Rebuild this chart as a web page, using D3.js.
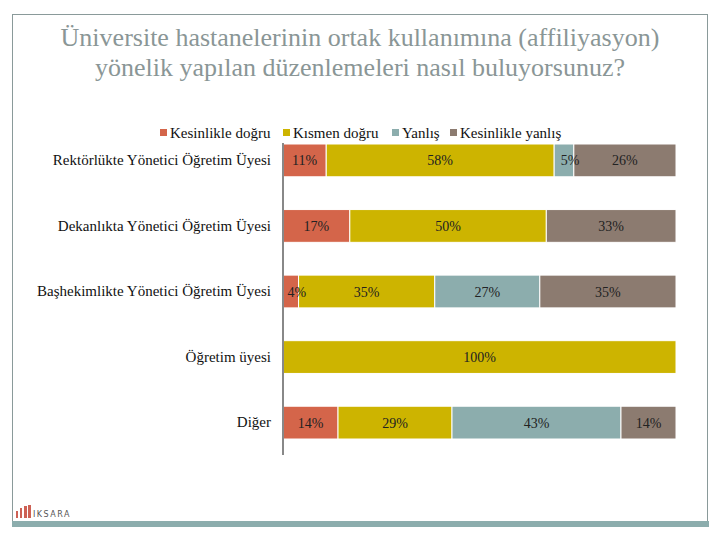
<!DOCTYPE html>
<html><head><meta charset="utf-8">
<script src="https://cdn.jsdelivr.net/npm/d3@7"></script>
<style>html,body{margin:0;padding:0;background:#fff;}</style>
</head><body>
<svg id="c" width="720" height="540"></svg>
<script>
const categories = ["Rektörlükte Yönetici Öğretim Üyesi","Dekanlıkta Yönetici Öğretim Üyesi","Başhekimlikte Yönetici Öğretim Üyesi","Öğretim üyesi","Diğer"];
const seriesNames = ["Kesinlikle doğru","Kısmen doğru","Yanlış","Kesinlikle yanlış"];
const kesinlikleDogru = [11, 17, 4, 0, 14];
const kismenDogru     = [58, 50, 35, 100, 29];
const yanlis          = [5, 0, 27, 0, 43];
const kesinlikleYanlis= [26, 33, 35, 0, 14];
const colors = ["#D4654A","#CDB400","#8CADAD","#8C7B70"];
const titleLines = ["Üniversite hastanelerinin ortak kullanımına (affiliyasyon)","yönelik yapılan düzenlemeleri nasıl buluyorsunuz?"];

const rows = categories.map((c,i)=>({cat:c, s0:kesinlikleDogru[i], s1:kismenDogru[i], s2:yanlis[i], s3:kesinlikleYanlis[i]}));
const keys = ["s0","s1","s2","s3"];
const stack = d3.stack().keys(keys).offset(d3.stackOffsetExpand)(rows);

const svg = d3.select("#c");
const font = "'Liberation Serif','DejaVu Serif',serif";

// frame
svg.append("rect").attr("x",12.5).attr("y",14.5).attr("width",695).attr("height",508)
  .attr("fill","none").attr("stroke","#8A9A9A").attr("stroke-width",1);
svg.append("rect").attr("x",12).attr("y",521).attr("width",697).attr("height",6).attr("fill","#8CADAD");

// title
svg.append("g").selectAll("text").data(titleLines).join("text")
  .attr("x",360).attr("y",(d,i)=>46+i*30).attr("text-anchor","middle")
  .attr("font-family",font).attr("font-size",26).attr("fill","#8A9696").text(d=>d);

const x = d3.scaleLinear().domain([0,1]).range([283,676]);
const y = d3.scaleBand().domain(categories).range([144,439]).paddingInner(0.5).paddingOuter(0).align(0);

// bars
const gb = svg.append("g");
const gl = svg.append("g");
stack.forEach((layer,li)=>{
  const nz = layer.filter(d=>d[1]-d[0]>0);
  gb.append("g").selectAll("rect").data(nz).join("rect")
    .attr("x",d=>x(d[0])).attr("y",d=>y(d.data.cat))
    .attr("width",d=>x(d[1])-x(d[0])).attr("height",y.bandwidth())
    .attr("fill",colors[li]).attr("stroke","#fff").attr("stroke-width",1);
  gl.append("g").selectAll("text").data(nz).join("text")
    .attr("x",d=>(x(d[0])+x(d[1]))/2 + (d.data[keys[li]]<6?6:0)).attr("y",d=>y(d.data.cat)+y.bandwidth()/2+5)
    .attr("text-anchor","middle").attr("font-family",font).attr("font-size",14).attr("fill","#222")
    .text(d=>d.data[keys[li]]+"%");
});

// axis
const ax = svg.append("g").attr("transform","translate(283,0)")
  .call(d3.axisLeft(y).tickSize(0).tickPadding(12));
ax.select(".domain").remove();
ax.selectAll("text").attr("font-family",font).attr("font-size",15).attr("fill","#111");
svg.append("line").attr("x1",283).attr("x2",283).attr("y1",143).attr("y2",455)
  .attr("stroke","#888").attr("stroke-width",2);

// legend
const legX = [160, 283, 392, 450];
const leg = svg.append("g");
seriesNames.forEach((n,i)=>{
  leg.append("rect").attr("x",legX[i]).attr("y",129).attr("width",7).attr("height",7).attr("fill",colors[i]);
  leg.append("text").attr("x",legX[i]+10).attr("y",138).attr("font-family",font).attr("font-size",15)
    .attr("fill","#111").text(n);
});

// logo
const logo = svg.append("g");
[[16,511,2,7],[20,508,2,10],[24,506,3,12],[28,505,3,13]].forEach(r=>{
  logo.append("rect").attr("x",r[0]).attr("y",r[1]).attr("width",r[2]).attr("height",r[3]).attr("fill","#C0392B").attr("opacity",0.8);
});
logo.append("text").attr("x",33).attr("y",517).attr("font-family","'DejaVu Sans',sans-serif").attr("font-size",8)
  .attr("letter-spacing",1.5).attr("fill","#555").text("IKSARA");
</script>
</body></html>
